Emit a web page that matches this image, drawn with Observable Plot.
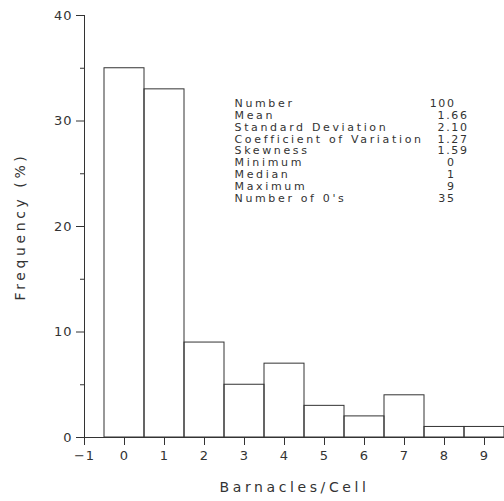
<!DOCTYPE html>
<html>
<head>
<meta charset="utf-8">
<script src="https://cdn.jsdelivr.net/npm/d3@7"></script>
<script src="https://cdn.jsdelivr.net/npm/@observablehq/plot@0.6"></script>
<style>
  body { margin: 0; background: #fff; }
  svg { display: block; }
  svg text { letter-spacing: 1px; }
  svg .title text { letter-spacing: 3.6px; }
  svg .stats text { letter-spacing: 2.65px; }
  svg .values text { letter-spacing: 1.6px; }
</style>
</head>
<body>
<div id="chart"></div>
<script>
// Barnacles counted per cell and the share of cells (%) with each count
const counts = [0, 1, 2, 3, 4, 5, 6, 7, 8, 9];
const frequency = [35, 33, 9, 5, 7, 3, 2, 4, 1, 1];

const xTicks = [-1, 0, 1, 2, 3, 4, 5, 6, 7, 8, 9];
const yTicks = [0, 10, 20, 30, 40];
const yMinorTicks = [5, 15, 25, 35];

// Summary statistics panel
const statLabels = ["Number", "Mean", "Standard Deviation", "Coefficient of Variation",
  "Skewness", "Minimum", "Median", "Maximum", "Number of 0's"];
const statValues = ["100", "1.66", "2.10", "1.27", "1.59", "0", "1", "9", "35"];
const statIsInteger = [true, false, false, false, false, true, true, true, true];

const bins = counts.map((c, i) => ({count: c, freq: frequency[i]}));

// integers are right-aligned on one edge, decimals on another
const blank = "\u00a0";
const intColumn = statValues.map((v, i) => statIsInteger[i] ? v : blank).join("\n");
const decColumn = statValues.map((v, i) => statIsInteger[i] ? blank : v).join("\n");

const ink = "#333";
const font = "'DejaVu Sans', sans-serif";
const panel = {frameAnchor: "top-left", dy: 83, lineAnchor: "top", lineHeight: 1.08,
  fontSize: 11, fill: ink};

const chart = Plot.plot({
  width: 504,
  height: 501,
  marginLeft: 84,
  marginRight: 0,
  marginTop: 15,
  marginBottom: 64,
  style: {fontFamily: font, fontSize: "13px", color: ink, background: "#fff"},
  x: {domain: [-1, 9.5]},
  y: {domain: [0, 40]},
  marks: [
    Plot.rect(bins, {x1: d => d.count - 0.5, x2: d => d.count + 0.5, y1: 0, y2: "freq",
      fill: "none", stroke: ink, strokeWidth: 1}),
    Plot.ruleY([0], {x1: -1, x2: 9.5, stroke: ink}),
    Plot.ruleX([-1], {y1: 0, y2: 40, stroke: ink}),
    Plot.axisY({ticks: yTicks, tickSize: 8, tickPadding: 4, label: null, stroke: ink}),
    Plot.axisY({ticks: yMinorTicks, tickSize: 4, tickFormat: () => "", label: null, stroke: ink}),
    Plot.axisX({ticks: xTicks, tickSize: 8, tickPadding: 5, label: null, stroke: ink}),
    Plot.text(["Frequency (%)"], {frameAnchor: "left", dx: -64, rotate: -90,
      textAnchor: "middle", fontSize: 14, fill: ink, className: "title"}),
    Plot.text(["Barnacles/Cell"], {frameAnchor: "bottom", dy: 50, lineAnchor: "middle",
      textAnchor: "middle", fontSize: 14, fill: ink, className: "title"}),
    Plot.text([statLabels.join("\n")], {...panel, dx: 150, textAnchor: "start",
      className: "stats"}),
    Plot.text([intColumn], {...panel, dx: 371, textAnchor: "end", className: "values"}),
    Plot.text([decColumn], {...panel, dx: 384, textAnchor: "end", className: "values"})
  ]
});

document.getElementById("chart").append(chart);
</script>
</body>
</html>
